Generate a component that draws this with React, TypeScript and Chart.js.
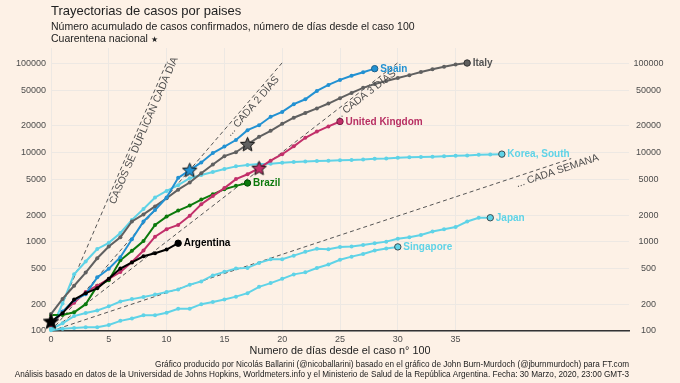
import React, { useEffect, useRef } from "react";
import { Chart, registerables } from "chart.js";
Chart.register(...registerables);

// ---------- DATA ----------
const spain = [120, 165, 222, 259, 400, 500, 673, 1073, 1695, 2277, 3146, 5232, 6391, 7798, 9942, 11748, 13910, 17963, 20410, 25374, 28768, 35136, 39885, 49515, 57786, 65719, 73235, 80110, 87956];
const italy = [155, 229, 322, 453, 655, 888, 1128, 1694, 2036, 2502, 3089, 3858, 4636, 5883, 7375, 9172, 10149, 12462, 15113, 17660, 21157, 24747, 27980, 31506, 35713, 41035, 47021, 53578, 59138, 63927, 69176, 74386, 80589, 86498, 92472, 97689, 101739];
const uk = [116, 164, 207, 274, 322, 384, 459, 596, 801, 1143, 1391, 1551, 1960, 2642, 3269, 4014, 5067, 5745, 6726, 8164, 9640, 11812, 14745, 17312, 19780, 22453];
const korea = [104, 204, 433, 602, 833, 977, 1261, 1766, 2337, 3150, 3736, 4335, 5186, 5621, 6088, 6593, 7041, 7314, 7478, 7513, 7755, 7869, 7979, 8086, 8162, 8236, 8320, 8413, 8565, 8652, 8799, 8897, 8961, 9037, 9137, 9241, 9332, 9478, 9583, 9661];
const brazil = [151, 151, 162, 200, 321, 372, 621, 793, 1021, 1546, 1924, 2247, 2554, 2985, 3417, 3904, 4256, 4579];
const argentina = [128, 158, 225, 266, 301, 387, 502, 589, 690, 745, 820, 966];
const japan = [105, 122, 147, 159, 170, 189, 214, 228, 241, 256, 274, 293, 331, 360, 420, 461, 502, 511, 581, 639, 639, 701, 773, 839, 825, 878, 889, 924, 963, 1007, 1086, 1128, 1193, 1307, 1387, 1468, 1693, 1866, 1866];
const singapore = [102, 106, 108, 110, 110, 117, 130, 138, 150, 150, 160, 178, 178, 200, 212, 226, 243, 266, 313, 345, 385, 432, 455, 509, 558, 631, 683, 732, 802, 844, 879];

// National quarantine (star markers)
const starCountries = ["Argentina", "Spain", "Italy", "United Kingdom"];
const starDays = [0, 12, 17, 18];
const starCases = [128, 6391, 12462, 6726];

// Doubling reference lines
const doublingDays = [1, 2, 3, 7];
const doublingEndDay = [10, 20, 30, 45];
const doublingLabels = ["CASOS SE DUPLICAN CADA DÍA", "... CADA 2 DÍAS", "... CADA 3 DÍAS", "... CADA SEMANA"];
const doublingLabelAt = [7.56, 17.05, 26.84, 43.6];
const doublingLabelOff = [6, 6.2, 5.7, 7.5];

const yTicks = [100, 200, 500, 1000, 2000, 5000, 10000, 20000, 50000, 100000];
const xTicks = [0, 5, 10, 15, 20, 25, 30, 35];

const FONT = "'Liberation Sans', Arial, Helvetica, sans-serif";
const BG = "#fdf1e6";
const GRID = "#ede8e3";
const CYAN = "#5fd3e7";

const countries = [
  { name: "Argentina", data: argentina, color: "#000000", label: "#000000", ring: "#000000" },
  { name: "Spain", data: spain, color: "#2291d2", label: "#2291d2", ring: "#1d5f8a" },
  { name: "Italy", data: italy, color: "#606060", label: "#555555", ring: "#333333" },
  { name: "United Kingdom", data: uk, color: "#c2306a", label: "#b72f63", ring: "#7a1f44" },
  { name: "Brazil", data: brazil, color: "#0c7a0c", label: "#0c7a0c", ring: "#064d06" },
  { name: "Korea, South", data: korea, color: CYAN, label: CYAN, ring: "#3b4b50" },
  { name: "Japan", data: japan, color: CYAN, label: CYAN, ring: "#3b4b50" },
  { name: "Singapore", data: singapore, color: CYAN, label: CYAN, ring: "#3b4b50" },
];

const starFill: Record<string, string> = {
  Argentina: "#000000",
  Spain: "#2291d2",
  Italy: "#606060",
  "United Kingdom": "#c2306a",
};

function makeStar(fill: string, r: number) {
  const c = document.createElement("canvas");
  const s = Math.ceil(r * 2 + 4);
  c.width = s;
  c.height = s;
  const g = c.getContext("2d")!;
  g.beginPath();
  for (let i = 0; i < 10; i++) {
    const rr = i % 2 === 0 ? r : r * 0.45;
    const a = -Math.PI / 2 + (i * Math.PI) / 5;
    g.lineTo(s / 2 + rr * Math.cos(a), s / 2 + 0.5 + rr * Math.sin(a));
  }
  g.closePath();
  g.fillStyle = fill;
  g.fill();
  g.strokeStyle = "#111";
  g.lineWidth = 1;
  g.stroke();
  return c;
}

export default function App() {
  const ref = useRef<HTMLCanvasElement | null>(null);

  useEffect(() => {
    document.body.style.margin = "0";
    document.body.style.background = BG;
    const canvas = ref.current!;

    const starImgs = starCountries.map((c) => makeStar(starFill[c], c === "Argentina" ? 8 : 7.5));

    const datasets: any[] = [];
    datasets.push({
      type: "line",
      label: "stars",
      data: starDays.map((d, i) => ({ x: d, y: starCases[i] })),
      showLine: false,
      pointStyle: (ctx: any) => starImgs[ctx.dataIndex],
      pointRadius: 8,
      clip: false,
    });
    countries.forEach((c) => {
      const last = c.data.length - 1;
      datasets.push({
        type: "line",
        label: c.name,
        data: c.data.map((v, i) => ({ x: i, y: v })),
        borderColor: c.color,
        backgroundColor: c.color,
        borderWidth: 2,
        pointRadius: (ctx: any) => (ctx.dataIndex === last ? 3.2 : 2),
        pointBorderWidth: (ctx: any) => (ctx.dataIndex === last ? 1 : 0),
        pointBorderColor: (ctx: any) => (ctx.dataIndex === last ? c.ring : c.color),
        pointBackgroundColor: c.color,
        tension: 0,
        clip: false,
      });
    });
    doublingDays.forEach((d, i) => {
      const end = doublingEndDay[i];
      datasets.push({
        type: "line",
        label: "dbl" + d,
        data: [
          { x: 0, y: 100 },
          { x: end, y: 100 * Math.pow(2, end / d) },
        ],
        borderColor: "#555555",
        borderWidth: 1,
        borderDash: [4, 3],
        pointRadius: 0,
        clip: false,
      });
    });

    const bgPlugin = {
      id: "bg",
      beforeDraw(chart: any) {
        const ctx = chart.ctx;
        ctx.save();
        ctx.fillStyle = BG;
        ctx.fillRect(0, 0, chart.width, chart.height);
        ctx.restore();
      },
    };

    const textPlugin = {
      id: "texts",
      afterDatasetsDraw(chart: any) {
        const ctx = chart.ctx;
        const xs = chart.scales.x;
        const ys = chart.scales.y;
        const area = chart.chartArea;
        ctx.save();
        // reference line labels
        doublingDays.forEach((d, i) => {
          const t = doublingLabelAt[i];
          const x1 = xs.getPixelForValue(t);
          const y1 = ys.getPixelForValue(100 * Math.pow(2, t / d));
          const x2 = xs.getPixelForValue(t + 1);
          const y2 = ys.getPixelForValue(100 * Math.pow(2, (t + 1) / d));
          const ang = Math.atan2(y2 - y1, x2 - x1);
          const nx = -Math.sin(ang);
          const ny = Math.cos(ang);
          const off = doublingLabelOff[i];
          ctx.save();
          ctx.translate(x1 + nx * off, y1 + ny * off);
          ctx.rotate(ang);
          ctx.font = `10.3px ${FONT}`;
          ctx.fillStyle = "#4d4d4d";
          ctx.textAlign = "center";
          ctx.textBaseline = "middle";
          ctx.fillText(doublingLabels[i], 0, 0);
          ctx.restore();
        });
        // country labels
        countries.forEach((c) => {
          const last = c.data.length - 1;
          const px = xs.getPixelForValue(last);
          const py = ys.getPixelForValue(c.data[last]);
          ctx.font = `bold 10px ${FONT}`;
          ctx.fillStyle = c.label;
          ctx.textAlign = "left";
          ctx.textBaseline = "middle";
          ctx.fillText(c.name, px + 5.5, py + 0.5);
        });
        // titles
        ctx.textAlign = "left";
        ctx.textBaseline = "middle";
        ctx.fillStyle = "#222222";
        ctx.font = `13px ${FONT}`;
        ctx.fillText("Trayectorias de casos por paises", area.left, 11);
        ctx.font = `10.5px ${FONT}`;
        ctx.fillText("Número acumulado de casos confirmados, número de días desde el caso 100", area.left, 27);
        const q = "Cuarentena nacional ";
        ctx.fillText(q, area.left, 39);
        const qw = ctx.measureText(q).width;
        ctx.font = `8px ${FONT}`;
        ctx.fillText("★", area.left + qw, 39.5);
        // axis title
        ctx.textAlign = "center";
        ctx.font = `10.8px ${FONT}`;
        ctx.fillStyle = "#222222";
        ctx.fillText("Numero de días desde el caso n° 100", (area.left + area.right) / 2, 351);
        // captions
        ctx.textAlign = "right";
        ctx.font = `8.2px ${FONT}`;
        ctx.fillStyle = "#222222";
        ctx.fillText(
          "Gráfico producido por Nicolás Ballarini (@nicoballarini) basado en el gráfico de John Burn-Murdoch (@jburnmurdoch) para FT.com",
          area.right,
          364.5
        );
        ctx.fillText(
          "Análisis basado en datos de la Universidad de Johns Hopkins, Worldmeters.info y el Ministerio de Salud de la República Argentina. Fecha: 30 Marzo, 2020, 23:00 GMT-3",
          area.right,
          374.5
        );
        ctx.restore();
      },
    };

    const tickFont = { family: FONT, size: 9 };

    const chart = new Chart(canvas, {
      type: "line",
      data: { datasets },
      options: {
        animation: false,
        responsive: false,
        maintainAspectRatio: false,
        layout: { padding: { top: 48, left: 0, right: 0, bottom: 0 } },
        plugins: { legend: { display: false }, tooltip: { enabled: false }, title: { display: false } },
        scales: {
          x: {
            type: "linear",
            min: 0,
            max: 50,
            afterBuildTicks: (s: any) => {
              s.ticks = xTicks.map((v) => ({ value: v }));
            },
            afterFit: (s: any) => {
              s.height = 52;
            },
            ticks: {
              font: tickFont,
              color: "#4d4d4d",
              padding: 3,
              maxRotation: 0,
              autoSkip: false,
              callback: (v: any) => String(v),
            },
            grid: { color: GRID, lineWidth: 1, drawTicks: false },
            border: { display: true, color: "#333333", width: 1.5 },
          },
          y: {
            type: "logarithmic",
            position: "left",
            min: 100,
            max: 150000,
            afterBuildTicks: (s: any) => {
              s.ticks = yTicks.map((v) => ({ value: v }));
            },
            afterFit: (s: any) => {
              s.width = 51;
            },
            ticks: {
              font: tickFont,
              color: "#4d4d4d",
              padding: 5,
              autoSkip: false,
              callback: (v: any) => String(v),
            },
            grid: { color: GRID, lineWidth: 1, drawTicks: false },
            border: { display: false },
          },
          y2: {
            type: "logarithmic",
            position: "right",
            display: true,
            min: 100,
            max: 150000,
            afterBuildTicks: (s: any) => {
              s.ticks = yTicks.map((v) => ({ value: v }));
            },
            afterFit: (s: any) => {
              s.width = 51;
            },
            ticks: {
              font: tickFont,
              color: "#4d4d4d",
              padding: 4.5,
              crossAlign: "center",
              autoSkip: false,
              callback: (v: any) => String(v),
            },
            grid: { display: false, drawTicks: false },
            border: { display: false },
          },
        },
      } as any,
      plugins: [bgPlugin, textPlugin],
    });

    return () => {
      chart.destroy();
    };
  }, []);

  return (
    <div style={{ width: 680, height: 383, background: BG }}>
      <canvas ref={ref} width={680} height={383} style={{ display: "block" }} />
    </div>
  );
}
